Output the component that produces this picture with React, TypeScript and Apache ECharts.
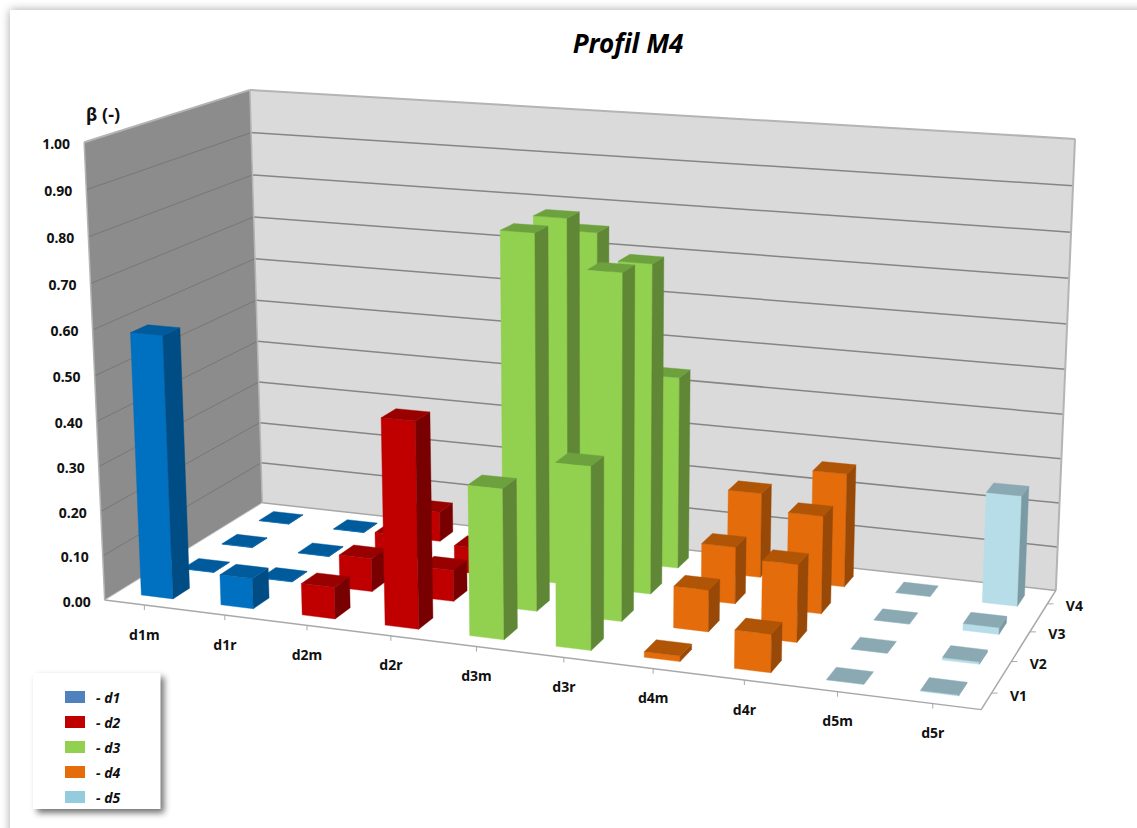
import React, { useEffect, useRef } from "react";
import * as echarts from "echarts";

const categories = ["d1m", "d1r", "d2m", "d2r", "d3m", "d3r", "d4m", "d4r", "d5m", "d5r"];
const depths = ["V1", "V2", "V3", "V4"];
const yTicks = [0, 0.1, 0.2, 0.3, 0.4, 0.5, 0.6, 0.7, 0.8, 0.9, 1.0];

// values per category, V1..V4
const d1m = [0.586, 0.001, 0.001, 0.001];
const d1r = [0.068, 0.001, 0.001, 0.001];
const d2m = [0.07, 0.075, 0.07, 0.07];
const d2r = [0.453, 0.07, 0.06, 0.05];
const d3m = [0.328, 0.825, 0.82, 0.752];
const d3r = [0.395, 0.756, 0.735, 0.44];
const d4m = [0.012, 0.092, 0.128, 0.194];
const d4r = [0.082, 0.17, 0.218, 0.258];
const d5m = [0, 0, 0, 0];
const d5r = [0.002, 0.005, 0.015, 0.248];

const groups = [
  { name: "d1", rows: [d1m, d1r], first: 0, front: "#0070C0", side: "#004C84", top: "#005B9C", legend: "#4F81BD" },
  { name: "d2", rows: [d2m, d2r], first: 2, front: "#C00000", side: "#780000", top: "#990000", legend: "#C00000" },
  { name: "d3", rows: [d3m, d3r], first: 4, front: "#92D050", side: "#5F8735", top: "#6CA13E", legend: "#92D050" },
  { name: "d4", rows: [d4m, d4r], first: 6, front: "#E46C0A", side: "#984807", top: "#B05506", legend: "#E46C0A" },
  { name: "d5", rows: [d5m, d5r], first: 8, front: "#B7DEE8", side: "#7A9BA4", top: "#8AA9B2", legend: "#93CDDD" },
];

// Camera calibration: corners of the chart box (u 0..1, v 0..1, h 0..1) -> screen
const calibration: number[][] = [
  [0, 0, 0, 105, 600],
  [1, 0, 0, 981, 710],
  [1, 1, 0, 1056, 590],
  [0, 1, 0, 262, 503],
  [0, 0, 1, 84, 142],
  [0, 1, 1, 250, 90],
  [1, 1, 1, 1075, 139],
];

function solveCamera(): number[] {
  const rows: number[][] = [];
  const rhs: number[] = [];
  for (const [u, v, h, x0, y0] of calibration) {
    const x = x0 / 1000;
    const y = y0 / 1000;
    rows.push([u, v, h, 1, 0, 0, 0, 0, -x * u, -x * v, -x * h]);
    rhs.push(x);
    rows.push([0, 0, 0, 0, u, v, h, 1, -y * u, -y * v, -y * h]);
    rhs.push(y);
  }
  const n = 11;
  const A: number[][] = [];
  for (let i = 0; i < n; i++) {
    const r: number[] = [];
    for (let j = 0; j < n; j++) {
      let s = i === j ? 1e-9 : 0;
      rows.forEach((row) => (s += row[i] * row[j]));
      r.push(s);
    }
    let b = 0;
    rows.forEach((row, k) => (b += row[i] * rhs[k]));
    r.push(b);
    A.push(r);
  }
  for (let c = 0; c < n; c++) {
    let p = c;
    for (let r = c + 1; r < n; r++) if (Math.abs(A[r][c]) > Math.abs(A[p][c])) p = r;
    [A[c], A[p]] = [A[p], A[c]];
    for (let r = 0; r < n; r++) {
      if (r === c) continue;
      const f = A[r][c] / A[c][c];
      for (let k = c; k <= n; k++) A[r][k] -= f * A[c][k];
    }
  }
  return A.map((r, i) => r[n] / r[i]);
}

const cam = solveCamera();
const project = (uCat: number, vCat: number, h: number): number[] => {
  const u = uCat / categories.length;
  const v = vCat / depths.length;
  const w = cam[8] * u + cam[9] * v + cam[10] * h + 1;
  return [
    (1000 * (cam[0] * u + cam[1] * v + cam[2] * h + cam[3])) / w,
    (1000 * (cam[4] * u + cam[5] * v + cam[6] * h + cam[7])) / w,
  ];
};

// hidden grid: it only supplies the scales
const GRID = { left: 0, top: 0, width: 1000, height: 500 };
const BAR_HALF = 0.2;

function renderBar(group: (typeof groups)[number]) {
  return (_params: any, api: any) => {
    const cat = api.value(0);
    const depth = api.value(1);
    const val = api.value(2);
    const c = api.coord([cat, val]);
    const u = ((c[0] - GRID.left) / GRID.width) * categories.length;
    const h = (GRID.top + GRID.height - c[1]) / GRID.height;
    const v = depth + 0.5;
    const u0 = u - BAR_HALF, u1 = u + BAR_HALF, v0 = v - BAR_HALF, v1 = v + BAR_HALF;
    const z2 = (3 - depth) * 100 + cat * 5;
    const poly = (points: number[][], fill: string, off: number) => ({
      type: "polygon",
      z2: z2 + off,
      shape: { points },
      style: { fill, stroke: fill, lineWidth: 0.4 },
      silent: true,
    });
    return {
      type: "group",
      children: [
        poly([project(u0, v0, 0), project(u1, v0, 0), project(u1, v0, h), project(u0, v0, h)], group.front, 0),
        poly([project(u1, v0, 0), project(u1, v1, 0), project(u1, v1, h), project(u1, v0, h)], group.side, 1),
        poly([project(u0, v0, h), project(u1, v0, h), project(u1, v1, h), project(u0, v1, h)], group.top, 2),
      ],
    };
  };
}

const FONT = '"Noto Sans", sans-serif';

function frameElements(): any[] {
  const nC = categories.length, nD = depths.length;
  const els: any[] = [];
  els.push({
    type: "rect",
    shape: { x: 10, y: 10, width: 1160, height: 860 },
    style: { fill: "#fff", shadowBlur: 10, shadowColor: "rgba(0,0,0,0.35)" },
    silent: true,
  });
  const line = (a: number[], b: number[], stroke: string, lineWidth: number) => ({
    type: "line",
    shape: { x1: a[0], y1: a[1], x2: b[0], y2: b[1] },
    style: { stroke, lineWidth },
    silent: true,
  });
  // walls
  els.push({
    type: "polygon",
    shape: { points: [project(0, 0, 0), project(0, nD, 0), project(0, nD, 1), project(0, 0, 1)] },
    style: { fill: "#8C8C8C" },
    silent: true,
  });
  els.push({
    type: "polygon",
    shape: { points: [project(0, nD, 0), project(nC, nD, 0), project(nC, nD, 1), project(0, nD, 1)] },
    style: { fill: "#DADADA" },
    silent: true,
  });
  // gridlines
  yTicks.forEach((t) => {
    if (t > 0 && t < 1) {
      els.push(line(project(0, 0, t), project(0, nD, t), "#777777", 1));
      els.push(line(project(0, nD, t), project(nC, nD, t), "#858585", 1.5));
    }
  });
  // wall edges
  els.push(line(project(0, 0, 1), project(0, nD, 1), "#B4B4B4", 2));
  els.push(line(project(0, nD, 1), project(nC, nD, 1), "#B4B4B4", 2));
  els.push(line(project(0, 0, 0), project(0, 0, 1), "#B4B4B4", 1.5));
  els.push(line(project(0, nD, 0), project(0, nD, 1), "#B4B4B4", 1.5));
  els.push(line(project(nC, nD, 0), project(nC, nD, 1), "#B4B4B4", 2));
  els.push(line(project(0, nD, 0), project(nC, nD, 0), "#A8A8A8", 1.5));
  els.push(line(project(0, 0, 0), project(0, nD, 0), "#C8C8C8", 1));
  // floor axes
  els.push(line(project(0, 0, 0), project(nC, 0, 0), "#A8A8A8", 1.5));
  els.push(line(project(nC, 0, 0), project(nC, nD, 0), "#A8A8A8", 1.5));
  const txt = (text: string, x: number, y: number, align: string, font: string) => ({
    type: "text",
    x,
    y,
    style: { text, font, fill: "#111", align, verticalAlign: "middle", textAlign: align, textVerticalAlign: "middle" },
    silent: true,
  });
  const labelFont = `bold 14px ${FONT}`;
  categories.forEach((name, i) => {
    const p = project(i + 0.5, 0, 0);
    els.push(line(p, [p[0], p[1] + 5], "#A8A8A8", 1));
    els.push(txt(name, p[0], p[1] + 29, "center", labelFont));
  });
  depths.forEach((name, i) => {
    const p = project(nC, i + 0.5, 0);
    els.push(line(p, [p[0] + 6, p[1]], "#A8A8A8", 1));
    els.push(txt(name, p[0] + 27, p[1] + 2, "center", labelFont));
  });
  yTicks.forEach((t) => {
    const p = project(0, 0, t);
    els.push(txt(t.toFixed(2), p[0] - 14, p[1] + 1, "right", labelFont));
  });
  els.push(txt("β (-)", 103, 114, "center", `bold 18px ${FONT}`));
  return els;
}

export default function App() {
  const ref = useRef<HTMLDivElement>(null);
  useEffect(() => {
    document.body.style.margin = "0";
    const chart = echarts.init(ref.current!, undefined, { renderer: "svg" });
    chart.setOption({
      animation: false,
      backgroundColor: "#ffffff",
      title: {
        text: "Profil M4",
        left: 623,
        top: 25,
        textAlign: "center",
        textStyle: { fontFamily: FONT, fontWeight: "bold", fontStyle: "italic", fontSize: 26, color: "#000" },
      },
      grid: GRID,
      xAxis: { type: "category", data: categories, show: false },
      yAxis: { type: "value", min: 0, max: 1, interval: 0.1, show: false },
      legend: {
        orient: "vertical",
        left: 33,
        top: 673,
        padding: [17, 40, 5, 32],
        itemWidth: 20,
        itemHeight: 12,
        itemGap: 11,
        backgroundColor: "#fff",
        shadowBlur: 6,
        shadowOffsetX: 4,
        shadowOffsetY: 4,
        shadowColor: "rgba(0,0,0,0.55)",
        selectedMode: false,
        formatter: (n: string) => `- ${n}`,
        textStyle: {
          fontFamily: FONT,
          fontWeight: "bold",
          fontStyle: "italic",
          fontSize: 14,
          lineHeight: 14,
          color: "#111",
          padding: [0, 0, 0, 6],
        },
        data: groups.map((g) => ({ name: g.name, icon: "rect", itemStyle: { color: g.legend } })),
      },
      graphic: { elements: frameElements() },
      series: groups.map((g) => ({
        type: "custom",
        name: g.name,
        coordinateSystem: "cartesian2d",
        encode: { x: 0, y: 2 },
        itemStyle: { color: g.front },
        renderItem: renderBar(g),
        data: g.rows.flatMap((row, ci) => row.map((val, di) => [g.first + ci, di, val])),
      })),
    });
    return () => chart.dispose();
  }, []);
  return <div ref={ref} style={{ width: 1137, height: 828 }} />;
}
